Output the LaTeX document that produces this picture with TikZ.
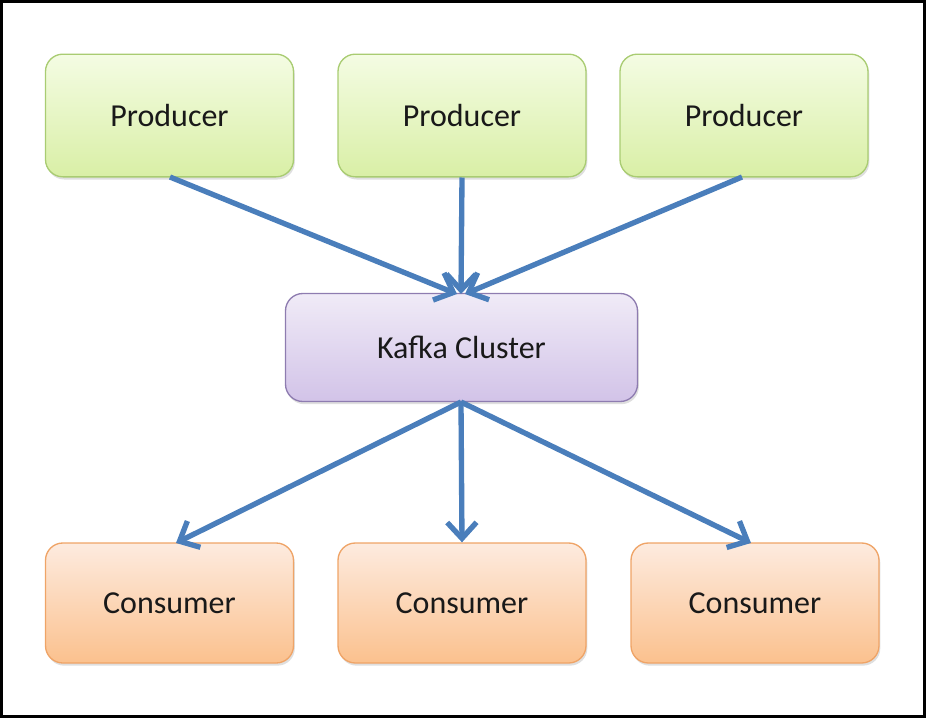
\documentclass[tikz,border=0pt]{standalone}
\usepackage{fontspec}
\setmainfont{Carlito}
\usetikzlibrary{arrows.meta,shadows}
\definecolor{arrowblue}{HTML}{4A7EBB}
\definecolor{prodtop}{HTML}{F4FCE3}
\definecolor{prodbot}{HTML}{D9EFA6}
\definecolor{prodline}{HTML}{A9CC72}
\definecolor{kaftop}{HTML}{F0EBF7}
\definecolor{kafbot}{HTML}{D2C3E8}
\definecolor{kafline}{HTML}{8E7CB0}
\definecolor{contop}{HTML}{FDEBDF}
\definecolor{conbot}{HTML}{FBC18E}
\definecolor{conline}{HTML}{EFA467}
\tikzset{
  box/.style={rounded corners=13pt, line width=1pt, font=\fontsize{24}{28}\selectfont, text=black!90,
    drop shadow={shadow xshift=1pt, shadow yshift=-2pt, opacity=0.25}},
  prod/.style={box, draw=prodline, top color=prodtop, bottom color=prodbot, minimum width=186pt, minimum height=92pt},
  kaf/.style={box, draw=kafline, top color=kaftop, bottom color=kafbot, minimum width=264pt, minimum height=81pt},
  cons/.style={box, draw=conline, top color=contop, bottom color=conbot, minimum width=186pt, minimum height=90pt},
  link/.style={draw=arrowblue, line width=4pt, -{Straight Barb[length=12pt, width=22pt, line width=4pt]}}
}
\begin{document}
\begin{tikzpicture}[x=0.75pt, y=-0.75pt]
\useasboundingbox (0,0) rectangle (926,718);
\draw[line width=2pt, black] (1.5,1.5) rectangle (924.5,716.5);
\node[prod] (p1) at (169.5,115.5) {Producer};
\node[prod] (p2) at (462,115.5) {Producer};
\node[prod] (p3) at (744,115.5) {Producer};
\node[kaf] (k) at (461.5,347.5) {Kafka Cluster};
\node[cons] (c1) at (169.5,603) {Consumer};
\node[cons] (c2) at (462,603) {Consumer};
\node[cons] (c3) at (755,603) {Consumer};
\coordinate (kt) at (461,294);
\coordinate (kb) at (461,402);
\draw[link] (170,177) -- ([xshift=-3]kt);
\draw[link] (p2.south) -- (kt);
\draw[link] (742,177) -- ([xshift=3]kt);
\draw[link] (kb) -- (176,543);
\draw[link] (kb) -- (c2.north);
\draw[link] (kb) -- (751,543);
\end{tikzpicture}
\end{document}
